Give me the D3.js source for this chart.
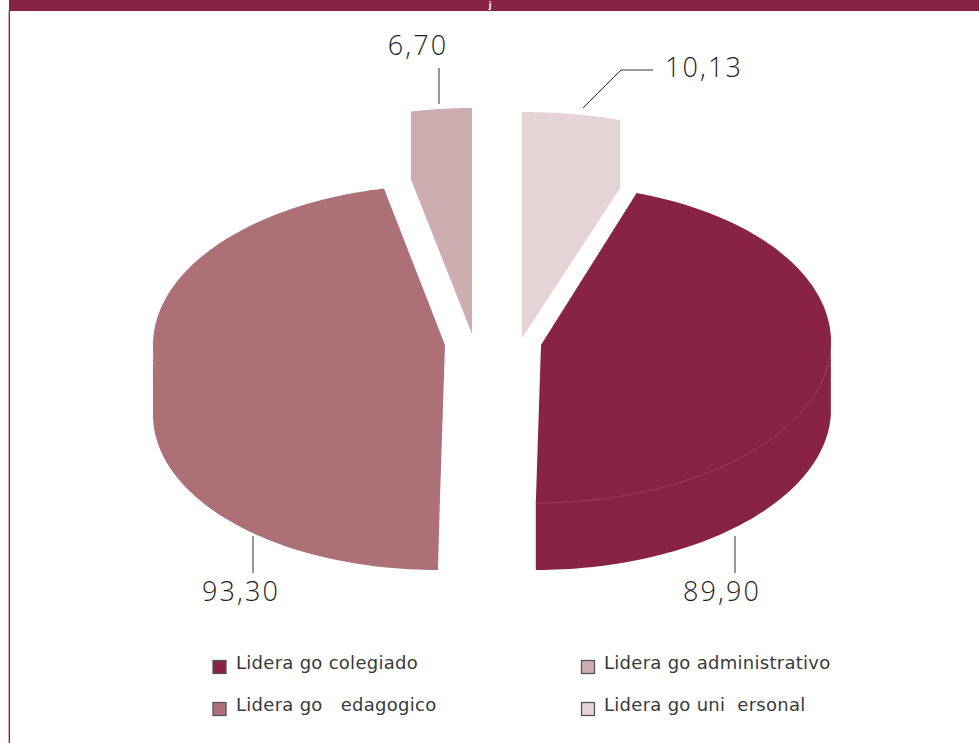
<!DOCTYPE html>
<html><head><meta charset="utf-8">
<script src="https://cdn.jsdelivr.net/npm/d3@7"></script>
<style>html,body{margin:0;padding:0;background:#fff}svg{display:block}</style></head>
<body><svg id="c" width="979" height="743"></svg>
<script>
const categories=["Lidera go uni  ersonal","Lidera go colegiado","Lidera go   edagogico","Lidera go administrativo"];
const values=[10.13,89.90,93.30,6.70];
const valueLabels=["10,13","89,90","93,30","6,70"];
const colors=["#E6D3D6","#882345","#AD7077","#CEADB0"];
const svg=d3.select("#c");
const W=979,H=743;
const MAROON="#882345";
svg.append("rect").attr("x",9).attr("y",0).attr("width",W-9).attr("height",11).attr("fill",MAROON);
svg.append("rect").attr("x",8).attr("y",11).attr("width",1).attr("height",H-11).attr("fill","#D9A9BA");
svg.append("rect").attr("x",9).attr("y",11).attr("width",1).attr("height",H-11).attr("fill",MAROON);
svg.append("text").attr("x",490).attr("y",8).attr("text-anchor","middle").attr("font-family","DejaVu Sans").attr("font-weight","bold").attr("font-size",8).attr("fill","#fff").text("j");

const pie=d3.pie().sort(null).value(d=>d)(values);
// per-slice layout: apex position, radii (back/front), extrusion direction, shear
const layout=[
 {cx:522,cy:338,rx:314,ryB:158,ryF:158,dz:-68,shear:0,shearAll:false,zShear:0},
 {cx:541,cy:345,rx:290,ryB:160,ryF:158,dz:67,shear:-0.032,shearAll:true,zShear:0},
 {cx:445,cy:345,rx:292,ryB:160,ryF:158,dz:67,shear:-0.032,shearAll:false,zShear:-0.028},
 {cx:472,cy:334,rx:292,ryB:158,ryF:158,dz:-68,shear:0,shearAll:false,zShear:0}
];
function project(t,z,l){
  const c=Math.cos(t);
  const dx=l.rx*Math.sin(t),dy=-(c>0?l.ryB:l.ryF)*c;
  const s=((l.shearAll||dy>0)?l.shear*dy:0)+l.zShear*z*c*c*c*c;
  return [l.cx+dx+s,l.cy+dy+z];
}
const line=d3.line();
pie.forEach((a,i)=>{
  const l=layout[i];
  const ts=d3.range(0,121).map(k=>a.startAngle+(a.endAngle-a.startAngle)*k/120);
  // only the part of the rim that faces the extrusion gets a side band;
  // its inner edge is tucked 1px under the top face so no seam shows
  const g=ts.filter(t=>l.dz*Math.cos(t)<=0);
  const tuck=-Math.sign(l.dz);
  const band=[...g.map(t=>project(t,tuck,l)),...g.slice().reverse().map(t=>project(t,l.dz,l))];
  svg.append("path").attr("d",line(band)+"Z").attr("fill",colors[i]);
  const wedge=[[l.cx,l.cy],...ts.map(t=>project(t,0,l))];
  svg.append("path").attr("d",line(wedge)+"Z").attr("fill",colors[i]);
});
// faint front edge of the dark slice
(function(){
  const a=pie[1],l=layout[1];
  const pts=d3.range(0,121).map(k=>a.startAngle+(a.endAngle-a.startAngle)*k/120).filter(t=>Math.cos(t)<-0.12).map(t=>project(t,0,l));
  svg.append("path").attr("d",line(pts)).attr("fill","none").attr("stroke","#a8506c").attr("stroke-width",0.6);
})();
// leaders
const leaders=[[[583,108],[621,70],[653,70]],[[735,536],[735,573]],[[253,536],[253,573]],[[439,68],[439,104]]];
leaders.forEach(pts=>svg.append("path").attr("d",line(pts)).attr("fill","none").attr("stroke","#333").attr("stroke-width",1));
const labelPos=[[704,77],[722,601],[241,601],[418,55]];
valueLabels.forEach((t,i)=>svg.append("text").attr("x",labelPos[i][0]).attr("y",labelPos[i][1]).attr("text-anchor","middle")
  .attr("font-family","Open Sans").attr("font-weight",300).attr("font-size",27).attr("letter-spacing",2.1).attr("fill","#1f1f1f").text(t));
// legend
const legendOrder=[1,3,2,0];
const legendPos=[[213,668.5],[581.5,668.5],[213,711],[581.5,711]];
legendOrder.forEach((k,i)=>{
  const [x,y]=legendPos[i];
  svg.append("rect").attr("x",x).attr("y",Math.round(y)-8.5).attr("width",13).attr("height",13).attr("fill",colors[k]).attr("stroke","#555").attr("stroke-width",1.3);
  svg.append("text").attr("x",236+(i%2)*368).attr("y",y).attr("font-family","DejaVu Sans").attr("font-size",18).attr("letter-spacing",0.28).style("white-space","pre").attr("fill","#3a3a3a").text(categories[k]);
});
</script></body></html>
